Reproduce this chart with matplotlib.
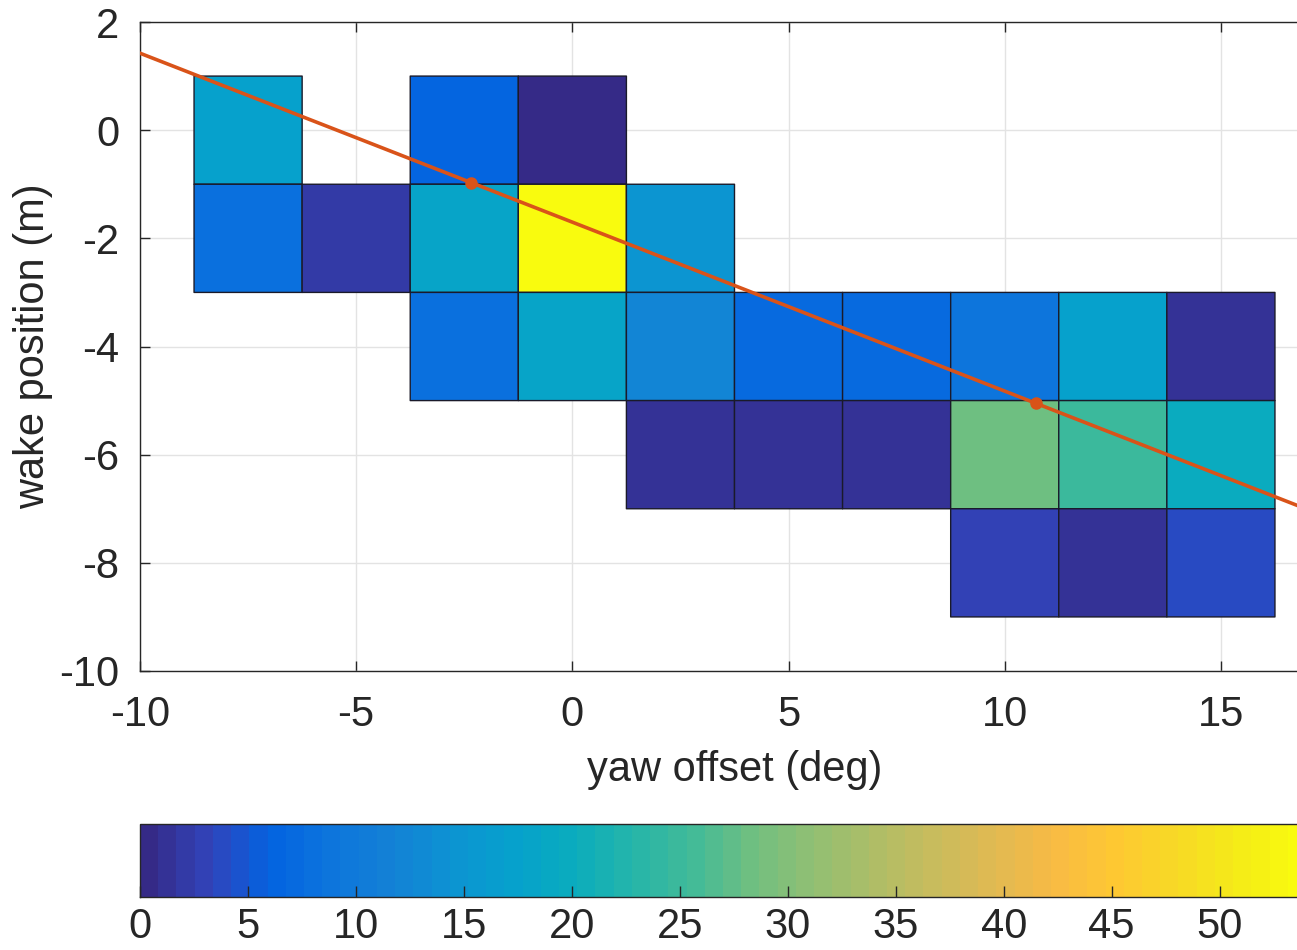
import numpy as np
import matplotlib
matplotlib.use("Agg")
import matplotlib.pyplot as plt
from matplotlib.colors import LinearSegmentedColormap

plt.rcParams["font.family"] = ["Liberation Sans", "DejaVu Sans"]
plt.rcParams["axes.unicode_minus"] = False

# parula-like colormap (64 levels, sampled anchors)
_PARULA = [
    (0.2081, 0.1663, 0.5292), (0.1959, 0.2645, 0.7279), (0.0117, 0.3875, 0.8820),
    (0.0498, 0.4586, 0.8641), (0.0779, 0.5040, 0.8384), (0.0488, 0.5772, 0.8228),
    (0.0239, 0.6287, 0.8038), (0.0383, 0.6743, 0.7436), (0.1453, 0.7098, 0.6646),
    (0.2586, 0.7317, 0.5954), (0.4420, 0.7481, 0.5033), (0.5709, 0.7485, 0.4494),
    (0.6834, 0.7435, 0.4044), (0.7858, 0.7356, 0.3633), (0.8824, 0.7274, 0.3217),
    (0.9739, 0.7314, 0.2666), (0.9955, 0.7861, 0.1967), (0.9697, 0.8481, 0.1475),
    (0.9598, 0.9218, 0.0948), (0.9763, 0.9831, 0.0538),
]
parula = LinearSegmentedColormap.from_list("parula", _PARULA, N=64)

DARK = "#262626"
LINE = "#D95319"

# bin centres
yaw_centers = [-7.5, -5.0, -2.5, 0.0, 2.5, 5.0, 7.5, 10.0, 12.5, 15.0]
wake_centers = [0.0, -2.0, -4.0, -6.0, -8.0]

# counts per bin (rows follow wake_centers, nan = no samples)
nan = np.nan
counts = np.array([
    [17.0, nan, 6.5, 0.5, nan, nan, nan, nan, nan, nan],
    [8.0, 2.5, 18.5, 54.0, 15.0, nan, nan, nan, nan, nan],
    [nan, nan, 8.0, 18.5, 12.5, 7.0, 7.0, 8.5, 17.5, 1.0],
    [nan, nan, nan, nan, 1.0, 1.0, 1.0, 28.0, 24.5, 19.5],
    [nan, nan, nan, nan, nan, nan, nan, 3.0, 1.0, 4.0],
])

# fitted wake centre points
fit_yaw = [-2.34, 10.72]
fit_wake = [-0.97, -5.05]

x_edges = np.append(np.array(yaw_centers) - 1.25, yaw_centers[-1] + 1.25)
y_edges = np.append(np.array(wake_centers) + 1.0, wake_centers[-1] - 1.0)

fig = plt.figure(figsize=(12.97, 9.50), dpi=100, facecolor="white")
W, H = 1297, 950
ax = fig.add_axes([140 / W, (H - 671) / H, 1189 / W, 649 / H])

# pcolor skips masked bins, so empty bins stay blank
mesh = ax.pcolor(x_edges, y_edges, np.ma.masked_invalid(counts),
                 cmap=parula, vmin=0, vmax=54,
                 edgecolors="#1a1a2a", linewidth=1.0, zorder=2)

xlim = (-10, 17.5)
slope, icpt = np.polyfit(fit_yaw, fit_wake, 1)
xx = np.array(xlim)
ax.plot(xx, slope * xx + icpt, color=LINE, lw=2.6, zorder=3)
ax.plot(fit_yaw, fit_wake, "o", color=LINE, ms=8, zorder=4)

ax.set_xlim(*xlim)
ax.set_ylim(-10, 2)
ax.set_xticks(np.arange(-10, 20, 5))
ax.set_yticks(np.arange(-10, 3, 2))
ax.grid(True, color="#e3e3e3", lw=1.0, zorder=0)
ax.set_axisbelow(True)
ax.tick_params(direction="in", length=7, width=1, colors=DARK,
               labelsize=30, top=True, right=True)
ax.tick_params(axis="x", pad=17)
ax.tick_params(axis="y", pad=15)
for sp in ax.spines.values():
    sp.set_color(DARK)
    sp.set_linewidth(1.0)
ax.set_xlabel("yaw offset (deg)", fontsize=30, color=DARK, labelpad=11)
ax.set_ylabel("wake position (m)", fontsize=30, color=DARK, labelpad=4)

cax = fig.add_axes([140 / W, (H - 897) / H, 1166 / W, 73 / H])
cb = fig.colorbar(mesh, cax=cax, orientation="horizontal",
                  ticks=np.arange(0, 55, 5))
cb.outline.set_edgecolor(DARK)
cb.outline.set_linewidth(1.0)
cax.tick_params(direction="in", length=8, width=1, colors=DARK,
                labelsize=30, pad=7)

fig.savefig("out.png", dpi=100, facecolor="white")
